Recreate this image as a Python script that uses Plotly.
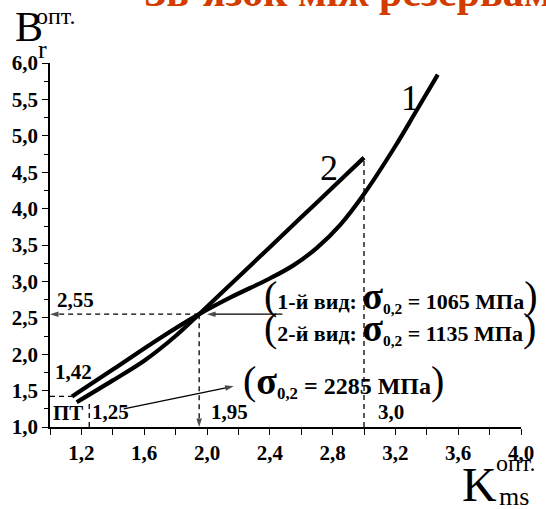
import plotly.graph_objects as go

# Curve 1 and curve 2: B_r(opt) as a function of K_ms(opt)
curve1_k = [1.14, 1.40, 1.70, 1.95, 2.15, 2.40, 2.55, 2.70, 2.85, 3.00, 3.20, 3.33, 3.47]
curve1_b = [1.42, 1.79, 2.22, 2.55, 2.78, 3.04, 3.22, 3.46, 3.78, 4.20, 4.86, 5.33, 5.84]

curve2_k = [1.17, 1.40, 1.60, 1.80, 1.95, 2.20, 2.40, 2.60, 2.80, 3.00]
curve2_b = [1.34, 1.64, 1.91, 2.25, 2.55, 3.06, 3.47, 3.88, 4.29, 4.70]

# Reference values marked by guide lines
k_cross, b_cross = 1.95, 2.55
b_start = 1.42
k_pt, b_pt = 1.25, 1.35
k_end, b_end = 3.0, 4.70

x_major = [1.2, 1.6, 2.0, 2.4, 2.8, 3.2, 3.6, 4.0]
x_minor = [1.0, 1.4, 1.8, 2.2, 2.6, 3.0, 3.4, 3.8]
y_major = [1.0, 1.5, 2.0, 2.5, 3.0, 3.5, 4.0, 4.5, 5.0, 5.5, 6.0]
y_minor = [1.25, 1.75, 2.25, 2.75, 3.25, 3.75, 4.25, 4.75, 5.25, 5.75]

SERIF = "Liberation Serif"
INK = "black"

fig = go.Figure()
for k, b in ((curve1_k, curve1_b), (curve2_k, curve2_b)):
    fig.add_trace(go.Scatter(
        x=k, y=b, mode="lines",
        line=dict(color=INK, width=4.2, shape="spline", smoothing=1.0),
        showlegend=False, hoverinfo="skip",
    ))


def pointer(xs, ys, dash=None, width=1.3, head=9):
    """Straight line ending in an arrowhead at its last point."""
    fig.add_trace(go.Scatter(
        x=xs, y=ys, mode="lines+markers",
        line=dict(color=INK, width=width, dash=dash),
        marker=dict(symbol=["circle", "arrow"], size=[0, head], color=INK,
                    angleref="previous", line=dict(width=0)),
        showlegend=False, hoverinfo="skip",
    ))


def guide(xs, ys):
    fig.add_trace(go.Scatter(
        x=xs, y=ys, mode="lines",
        line=dict(color=INK, width=1.3, dash="5px,4px"),
        showlegend=False, hoverinfo="skip",
    ))


# dashed guides with arrowheads down to the axes
pointer([k_cross, 1.0], [b_cross, b_cross], dash="5px,4px")
pointer([k_cross, k_cross], [b_cross, 1.0], dash="5px,4px")
guide([1.0, curve1_k[0]], [b_start, b_start])
guide([k_pt, k_pt], [1.0, b_pt])
guide([k_end, k_end], [1.0, b_end])
# solid pointers from the labels
pointer([2.48, 2.0], [b_cross, b_cross])
pointer([1.47, 2.17], [1.25, 1.56])

ann = []


def label(x, y, text, size=21, xanchor="left", yanchor="middle", weight="bold"):
    ann.append(dict(x=x, y=y, xref="x", yref="y", text=text, showarrow=False,
                    xanchor=xanchor, yanchor=yanchor,
                    font=dict(family=SERIF, size=size, color=INK, weight=weight)))


label(1.03, 2.75, "2,55")
label(1.017, 1.755, "1,42")
label(1.005, 1.19, "ПТ")
label(1.255, 1.20, "1,25")
label(2.01, 1.20, "1,95")
label(3.075, 1.20, "3,0")
label(3.29, 5.52, "1", size=36, xanchor="center", weight="normal")
label(2.78, 4.56, "2", size=36, xanchor="center", weight="normal")

BIG = '<span style="font-size:40px;font-weight:normal">{}</span>'
SIG = '<span style="font-size:38px">σ</span><sub>0,2</sub>'
label(2.35, 2.80, BIG.format("(") + "1-й вид: " + SIG + " = 1065 МПа" + BIG.format(")"), size=22)
label(2.35, 2.36, BIG.format("(") + "2-й вид: " + SIG + " = 1135 МПа" + BIG.format(")"), size=22)
label(2.215, 1.64, BIG.format("(") + SIG + " = 2285 МПа" + BIG.format(")"), size=24)


def ptext(x, y, text, size, xanchor="left", yanchor="middle", color=INK, weight="normal"):
    ann.append(dict(x=x, y=y, xref="paper", yref="paper", text=text,
                    showarrow=False, xanchor=xanchor, yanchor=yanchor,
                    font=dict(family=SERIF, size=size, color=color, weight=weight)))


# axis titles
ptext(-0.078, 1.098, "B", 42)
ptext(-0.034, 1.13, "опт.", 24)
ptext(-0.029, 1.036, "r", 26)
ptext(0.87, -0.157, "K", 48)
ptext(0.942, -0.10, "опт.", 24)
ptext(0.948, -0.19, "ms", 26)

# slide heading above the chart
ptext(0.195, 1.125, "Зв’язок між резервами", 42, yanchor="bottom",
      color="#D23C00", weight="bold")

axis_common = dict(
    showgrid=False, zeroline=False, showline=True, linecolor=INK, linewidth=1.5,
    ticks="outside", ticklen=6, tickwidth=1.3, tickcolor=INK,
    tickmode="array", tickformat=".1f",
    tickfont=dict(family=SERIF, size=21, color=INK, weight="bold"),
)

fig.update_layout(
    width=546, height=509,
    margin=dict(l=43.3, r=17.7, t=63, b=82),
    paper_bgcolor="white", plot_bgcolor="white",
    separators=", ",
    annotations=ann,
    xaxis=dict(range=[1.0, 4.0], tickvals=x_major,
               minor=dict(tickvals=x_minor, ticks="outside", ticklen=6,
                          tickwidth=1.3, tickcolor=INK),
               **axis_common),
    yaxis=dict(range=[1.0, 6.0], tickvals=y_major,
               minor=dict(tickvals=y_minor, ticks="outside", ticklen=4,
                          tickwidth=1.3, tickcolor=INK),
               **axis_common),
)

fig.write_html("out.html")
